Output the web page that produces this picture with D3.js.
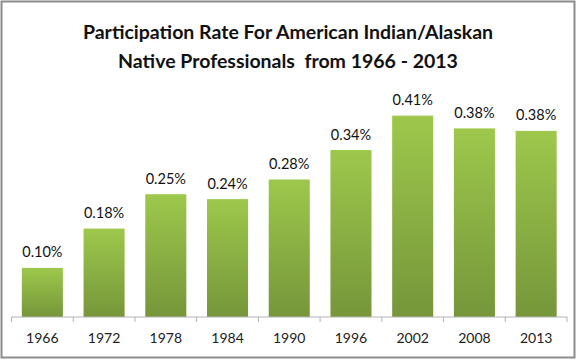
<!DOCTYPE html>
<html>
<head>
<meta charset="utf-8">
<script src="https://cdn.jsdelivr.net/npm/d3@7"></script>
<style>
  body { margin: 0; background: #fff; }
  text { font-family: Lato, 'Open Sans', sans-serif; }
</style>
</head>
<body>
<div id="viz"></div>
<script>
const years = ['1966', '1972', '1978', '1984', '1990', '1996', '2002', '2008', '2013'];
const rates = [0.10, 0.18, 0.25, 0.24, 0.28, 0.34, 0.41, 0.384, 0.379];
const titleLines = ['Participation Rate For American Indian/Alaskan', 'Native Professionals  from 1966 - 2013'];

const W = 576, H = 360;
const margin = {top: 96, right: 9, bottom: 43, left: 11.5};
const width = W - margin.left - margin.right;
const height = H - margin.top - margin.bottom;

const svg = d3.select('#viz')
    .append('svg')
    .attr('width', W)
    .attr('height', H);

// outer chart border
svg.append('rect')
    .attr('x', 1.5).attr('y', 1.5)
    .attr('width', 573).attr('height', 356)
    .attr('fill', '#fff')
    .attr('stroke', '#8c8c8c')
    .attr('stroke-width', 2);

const grad = svg.append('defs').append('linearGradient')
    .attr('id', 'barGrad')
    .attr('x1', 0).attr('y1', 0).attr('x2', 0).attr('y2', 1);
grad.append('stop').attr('offset', '0%').attr('stop-color', '#9dc84c');
grad.append('stop').attr('offset', '100%').attr('stop-color', '#76963a');

svg.append('text')
    .attr('x', W / 2)
    .attr('text-anchor', 'middle')
    .style('font-size', '19.5px')
    .style('font-weight', 'bold')
    .style('white-space', 'pre')
    .attr('fill', '#111')
    .selectAll('tspan')
    .data(titleLines)
    .join('tspan')
    .attr('x', W / 2)
    .attr('y', (d, i) => 39 + i * 29)
    .text(d => d);

const g = svg.append('g')
    .attr('transform', `translate(${margin.left},${margin.top})`);

const x = d3.scaleBand()
    .domain(years)
    .range([0, width])
    .paddingInner(0.335)
    .paddingOuter(0.335 / 2);

const y = d3.scaleLinear()
    .domain([0, 0.45])
    .range([height, 0]);

g.selectAll('.bar')
    .data(years)
    .join('rect')
    .attr('class', 'bar')
    .attr('x', d => x(d))
    .attr('y', (d, i) => y(rates[i]))
    .attr('width', x.bandwidth())
    .attr('height', (d, i) => height - y(rates[i]))
    .attr('fill', 'url(#barGrad)');

g.selectAll('.label')
    .data(years)
    .join('text')
    .attr('class', 'label')
    .attr('x', d => x(d) + x.bandwidth() / 2)
    .attr('y', (d, i) => y(rates[i]) - 10.5)
    .attr('text-anchor', 'middle')
    .style('font-size', '14.5px')
    .attr('fill', '#111')
    .text((d, i) => (rates[i]).toFixed(2) + '%');

// category axis with ticks on band boundaries
const axis = g.append('g')
    .attr('transform', `translate(0,${height})`);
axis.append('line')
    .attr('x1', 0).attr('x2', width)
    .attr('stroke', '#b3b3b3');
axis.selectAll('.tick-mark')
    .data(d3.range(years.length + 1))
    .join('line')
    .attr('class', 'tick-mark')
    .attr('x1', i => i * x.step()).attr('x2', i => i * x.step())
    .attr('y1', 0).attr('y2', 5)
    .attr('stroke', '#b3b3b3');
axis.selectAll('.year')
    .data(years)
    .join('text')
    .attr('class', 'year')
    .attr('x', d => x(d) + x.bandwidth() / 2)
    .attr('y', 26)
    .attr('text-anchor', 'middle')
    .style('font-size', '14px')
    .attr('fill', '#222')
    .text(d => d);
</script>
</body>
</html>
